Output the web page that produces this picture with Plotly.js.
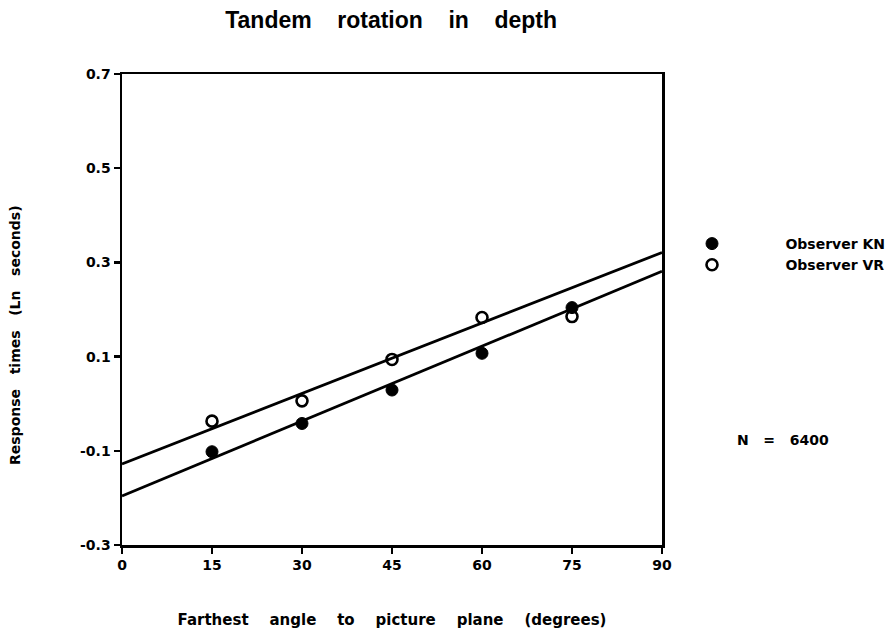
<!DOCTYPE html>
<html>
<head>
<meta charset="utf-8">
<script src="https://cdn.plot.ly/plotly-3.0.1.min.js"></script>
<style>html,body{margin:0;padding:0;background:#fff;}#chart{width:894px;height:635px;}</style>
</head>
<body>
<div id="chart"></div>
<script>
// Data
const angles = [15, 30, 45, 60, 75];
const observerKN = [-0.102, -0.042, 0.029, 0.107, 0.204];
const observerVR = [-0.037, 0.006, 0.094, 0.183, 0.185];
const fitX = [0, 90];
const fitKN = [-0.196, 0.281];
const fitVR = [-0.128, 0.321];
const xTicks = [0, 15, 30, 45, 60, 75, 90];
const yTicks = [-0.3, -0.1, 0.1, 0.3, 0.5, 0.7];

const nb = n => '\u00A0'.repeat(n);
const font = 'DejaVu Sans, Liberation Sans, Arial, sans-serif';
const titleFont = 'Liberation Sans, Arial, sans-serif';

const traces = [
  {x: fitX, y: fitKN, mode: 'lines', line: {color: '#000', width: 2.8}, showlegend: false, hoverinfo: 'skip'},
  {x: fitX, y: fitVR, mode: 'lines', line: {color: '#000', width: 2.8}, showlegend: false, hoverinfo: 'skip'},
  {x: angles, y: observerKN, mode: 'markers', name: nb(12) + '<b>Observer KN</b>',
   marker: {symbol: 'circle', size: 12, color: '#000', line: {color: '#000', width: 1}}},
  {x: angles, y: observerVR, mode: 'markers', name: nb(12) + '<b>Observer VR</b>',
   marker: {symbol: 'circle-open', size: 11, color: '#000', line: {color: '#000', width: 2.6}}}
];

const axisFont = {family: font, size: 14, color: '#000'};
const xg = nb(4), yg = nb(3);
const px2x = p => (p - 122) / 540;
const px2y = p => 1 - (p - 74) / 471;

const layout = {
  width: 894, height: 635,
  margin: {l: 122, r: 232, t: 74, b: 90, autoexpand: false},
  paper_bgcolor: '#fff', plot_bgcolor: '#fff',
  title: {text: '<b>Tandem' + nb(4) + 'rotation' + nb(4) + 'in' + nb(4) + 'depth</b>',
          font: {family: titleFont, size: 23, color: '#000'},
          x: 0.4375, xanchor: 'center', y: 0.968, yanchor: 'middle'},
  xaxis: {range: [0, 90], tickvals: xTicks, ticktext: xTicks.map(v => '<b>' + v + '</b>'),
          showgrid: false, zeroline: false, showline: true, linecolor: '#000', linewidth: 2.5, mirror: true,
          ticks: 'outside', ticklen: 6, tickwidth: 2.5, tickcolor: '#000',
          tickfont: axisFont, automargin: false,
          title: {text: '<b>Farthest' + xg + 'angle' + xg + 'to' + xg + 'picture' + xg + 'plane' + xg + '(degrees)</b>',
                  font: {family: font, size: 15, color: '#000'}, standoff: 42}},
  yaxis: {range: [-0.3, 0.7], tickvals: yTicks, ticktext: yTicks.map(v => '<b>' + v.toFixed(1) + '</b>'),
          showgrid: false, zeroline: false, showline: true, linecolor: '#000', linewidth: 2.5, mirror: true,
          ticks: 'outside', ticklen: 6, tickwidth: 2.5, tickcolor: '#000',
          tickfont: axisFont, automargin: false},
  showlegend: true,
  legend: {x: px2x(692), xanchor: 'left', y: px2y(228), yanchor: 'top', itemwidth: 30,
           font: {family: font, size: 14, color: '#000'},
           bgcolor: 'rgba(0,0,0,0)', tracegroupgap: 0},
  annotations: [
    {xref: 'paper', yref: 'paper', x: px2x(15), y: px2y(335), xanchor: 'center', yanchor: 'middle', showarrow: false,
     textangle: -90,
     text: '<b>Response' + yg + 'times' + yg + '(Ln' + yg + 'seconds)</b>', font: {family: font, size: 14, color: '#000'}},
    {xref: 'paper', yref: 'paper', x: px2x(735), y: px2y(440), xanchor: 'left', yanchor: 'middle', showarrow: false,
     text: '<b>N' + nb(3) + '=' + nb(3) + '6400</b>', font: {family: font, size: 14, color: '#000'}}
  ]
};

Plotly.newPlot('chart', traces, layout, {displayModeBar: false, staticPlot: true});
</script>
</body>
</html>
